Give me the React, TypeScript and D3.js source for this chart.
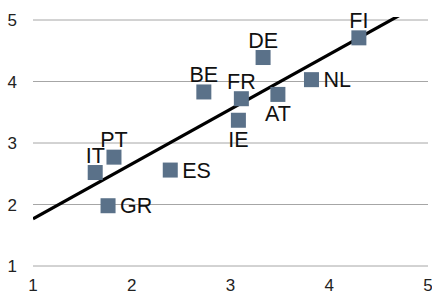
import React from 'react';
import * as d3 from 'd3';

const countries = ['BE', 'DE', 'FR', 'AT', 'NL', 'FI', 'IE', 'IT', 'PT', 'ES', 'GR'];
const xValues = [2.73, 3.33, 3.11, 3.48, 3.82, 4.30, 3.08, 1.63, 1.82, 2.39, 1.76];
const yValues = [3.83, 4.39, 3.72, 3.79, 4.03, 4.71, 3.37, 2.52, 2.77, 2.56, 1.98];
const labelPos = ['above', 'above', 'above', 'below', 'right', 'above', 'below', 'above', 'above', 'right', 'right'];
const xTicks = [1, 2, 3, 4, 5];
const yTicks = [1, 2, 3, 4, 5];

const width = 432;
const height = 295;
const margin = { top: 20, right: 4, bottom: 29, left: 33 };
const font = 'Liberation Sans, Arial, sans-serif';

const App: React.FC = () => {
    const x = d3.scaleLinear().domain([1, 5]).range([margin.left, width - margin.right]);
    const y = d3.scaleLinear().domain([1, 5]).range([height - margin.bottom, margin.top]);

    // least squares trend line
    const xm = d3.mean(xValues) as number;
    const ym = d3.mean(yValues) as number;
    let num = 0;
    let den = 0;
    xValues.forEach((v, i) => {
        num += (v - xm) * (yValues[i] - ym);
        den += (v - xm) * (v - xm);
    });
    const slope = num / den;
    const intercept = ym - slope * xm;
    const trend = d3.line<number>()
        .x(d => x(d))
        .y(d => y(intercept + slope * d));

    const sq = 15;

    return (
        <svg width={width} height={height} style={{ position: 'absolute', left: 0, top: 0, background: '#fff' }}>
            <defs>
                <clipPath id="plot-clip">
                    <rect x={margin.left} y={margin.top - 3} width={width - margin.left - margin.right} height={height - margin.top - margin.bottom + 3} />
                </clipPath>
            </defs>
            {yTicks.map(t => (
                <g key={t}>
                    <line x1={x(1)} x2={x(5)} y1={y(t)} y2={y(t)} stroke="#a6a6a6" strokeWidth={1} />
                    <text x={17} y={y(t)} dy="0.36em" textAnchor="end" fontFamily={font} fontSize={17} fill="#222">{t}</text>
                </g>
            ))}
            {xTicks.map(t => (
                <text key={t} x={x(t)} y={height - 4} textAnchor="middle" fontFamily={font} fontSize={17} fill="#222">{t}</text>
            ))}
            <path d={trend([1, 5]) as string} stroke="#000" strokeWidth={3.2} fill="none" clipPath="url(#plot-clip)" />
            {countries.map((c, i) => {
                const cx = x(xValues[i]);
                const cy = y(yValues[i]);
                const pos = labelPos[i];
                let tx = cx;
                let ty = cy - 10;
                let anchor = 'middle';
                if (pos === 'below') ty = cy + 27;
                if (pos === 'right') { tx = cx + 12; ty = cy + 7.5; anchor = 'start'; }
                return (
                    <g key={c}>
                        <rect x={cx - sq / 2} y={cy - sq / 2} width={sq} height={sq} fill="#5a7189" />
                        <text x={tx} y={ty} textAnchor={anchor} fontFamily={font} fontSize={21.5} fill="#111">{c}</text>
                    </g>
                );
            })}
        </svg>
    );
};

export default App;
